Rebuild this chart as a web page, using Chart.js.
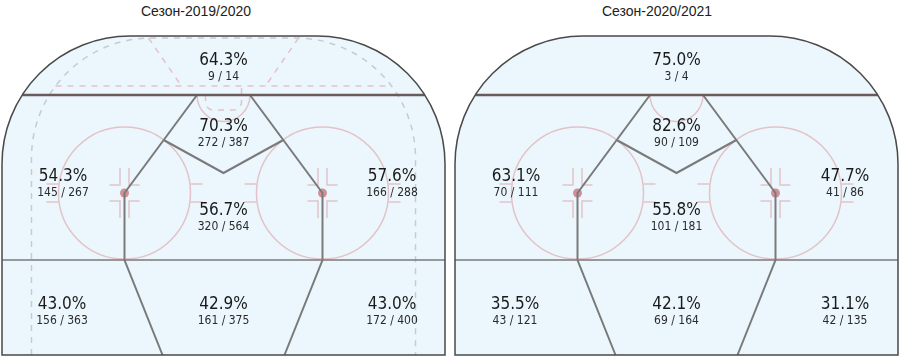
<html><head><meta charset="utf-8">
<script src="https://cdn.jsdelivr.net/npm/chart.js@4.4.0/dist/chart.umd.min.js"></script>
<style>
body{margin:0;background:#fff;overflow:hidden;width:900px;height:357px;position:relative}
canvas{position:absolute;top:0}
.ttl{position:absolute;top:0;width:200px;margin-left:-100px;text-align:center;font:14px "Liberation Sans",Arial,sans-serif;line-height:22px;color:#222}
</style>
</head>
<body>
<div class="ttl" id="t0" style="left:196px"></div>
<div class="ttl" id="t1" style="left:657px"></div>
<canvas id="c0" width="450" height="357" style="left:0"></canvas>
<canvas id="c1" width="447" height="357" style="left:453px"></canvas>
<script>
// data
var seasons = ['Сезон-2019/2020', 'Сезон-2020/2021'];
var zones = ['За воротами', 'Слот', 'Левый круг', 'Правый круг', 'Центр', 'Левый низ', 'Центр низ', 'Правый низ'];
var made2019 = [9, 272, 145, 166, 320, 156, 161, 172];
var att2019 = [14, 387, 267, 288, 564, 363, 375, 400];
var made2020 = [3, 90, 70, 41, 101, 43, 69, 42];
var att2020 = [4, 109, 111, 86, 181, 121, 164, 135];

// rink layout (rink units, x 0..443, y 0..321 from the top boards)
var CX = 221.5;
var zoneX = [CX, CX, 61, 390, CX, 60, CX, 390];
var zoneY = [25, 91, 141, 141, 175, 269, 269, 269];

var rinkPlugin = {
  id: 'rink',
  beforeDatasetsDraw: function(chart, args, opts) {
    var ctx = chart.ctx, sx = chart.scales.x, sy = chart.scales.y;
    var X = function(v){ return sx.getPixelForValue(v); };
    var Y = function(v){ return sy.getPixelForValue(v); };
    var k = X(1) - X(0);
    var W = 443, B = 319, R = 128;
    ctx.save();
    // ice
    ctx.beginPath();
    ctx.moveTo(X(0), Y(B));
    ctx.lineTo(X(0), Y(R));
    ctx.arc(X(R), Y(R), R * k, Math.PI, 1.5 * Math.PI);
    ctx.lineTo(X(W - R), Y(0));
    ctx.arc(X(W - R), Y(R), R * k, 1.5 * Math.PI, 2 * Math.PI);
    ctx.lineTo(X(W), Y(B));
    ctx.closePath();
    ctx.fillStyle = '#ebf7fd';
    ctx.fill();

    var pink = '#e3c3c7';
    ctx.lineWidth = 1.5;
    if (opts.markings) {
      ctx.setLineDash([6, 6]);
      ctx.strokeStyle = '#c6cbcf';
      ctx.beginPath();
      ctx.moveTo(X(CX - 192), Y(B));
      ctx.lineTo(X(CX - 192), Y(122));
      ctx.arc(X(CX - 72), Y(122), 120 * k, Math.PI, 1.5 * Math.PI);
      ctx.lineTo(X(CX + 72), Y(2));
      ctx.arc(X(CX + 72), Y(122), 120 * k, 1.5 * Math.PI, 2 * Math.PI);
      ctx.lineTo(X(CX + 192), Y(B));
      ctx.stroke();

      ctx.strokeStyle = pink;
      ctx.beginPath();
      ctx.moveTo(X(CX - 75), Y(2)); ctx.lineTo(X(CX - 42), Y(50));
      ctx.moveTo(X(CX + 75), Y(2)); ctx.lineTo(X(CX + 42), Y(50));
      ctx.moveTo(X(CX - 168), Y(50)); ctx.lineTo(X(CX + 168), Y(50));
      ctx.stroke();
      ctx.beginPath();
      ctx.moveTo(X(CX - 18), Y(59));
      ctx.lineTo(X(CX - 18), Y(66));
      ctx.arcTo(X(CX - 18), Y(74), X(CX - 10), Y(74), 8 * k);
      ctx.lineTo(X(CX + 10), Y(74));
      ctx.arcTo(X(CX + 18), Y(74), X(CX + 18), Y(66), 8 * k);
      ctx.lineTo(X(CX + 18), Y(50));
      ctx.stroke();
      ctx.setLineDash([]);
    }

    // crease
    ctx.strokeStyle = pink;
    ctx.beginPath();
    ctx.arc(X(CX), Y(59), 26.5 * k, 0, Math.PI);
    ctx.stroke();

    // faceoff circles
    [CX - 99, CX + 99].forEach(function(fx) {
      var fy = 157;
      ctx.strokeStyle = pink;
      ctx.lineWidth = 1.5;
      ctx.beginPath();
      ctx.arc(X(fx), Y(fy), 66 * k, 0, 2 * Math.PI);
      ctx.stroke();
      ctx.beginPath();
      [-1, 1].forEach(function(s) {
        [-1, 1].forEach(function(t) {
          ctx.moveTo(X(fx + s * 66), Y(fy + t * 9)); ctx.lineTo(X(fx + s * 78), Y(fy + t * 9));
          ctx.moveTo(X(fx + s * 4.5), Y(fy + t * 25)); ctx.lineTo(X(fx + s * 4.5), Y(fy + t * 8));
          ctx.lineTo(X(fx + s * 15), Y(fy + t * 8));
        });
      });
      ctx.stroke();
      ctx.fillStyle = 'rgba(200,110,115,0.75)';
      ctx.beginPath();
      ctx.arc(X(fx), Y(fy), 4.5 * k, 0, 2 * Math.PI);
      ctx.fill();
    });

    // zone lines
    ctx.strokeStyle = '#7a7a7a';
    ctx.lineWidth = 1.5;
    ctx.beginPath();
    ctx.moveTo(X(0), Y(224)); ctx.lineTo(X(W), Y(224));
    ctx.stroke();
    ctx.lineWidth = 2;
    ctx.beginPath();
    ctx.moveTo(X(CX - 26.5), Y(59)); ctx.lineTo(X(CX - 99), Y(157)); ctx.lineTo(X(CX - 99), Y(224)); ctx.lineTo(X(CX - 61), Y(B));
    ctx.moveTo(X(CX + 26.5), Y(59)); ctx.lineTo(X(CX + 99), Y(157)); ctx.lineTo(X(CX + 99), Y(224)); ctx.lineTo(X(CX + 61), Y(B));
    ctx.moveTo(X(CX - 59.8), Y(104)); ctx.lineTo(X(CX), Y(137)); ctx.lineTo(X(CX + 59.8), Y(104));
    ctx.stroke();

    // goal line
    var gx = R - Math.sqrt(R * R - (R - 59) * (R - 59));
    ctx.strokeStyle = '#6b5a5a';
    ctx.lineWidth = 2.5;
    ctx.beginPath();
    ctx.moveTo(X(gx), Y(59)); ctx.lineTo(X(W - gx), Y(59));
    ctx.stroke();

    // boards
    ctx.strokeStyle = '#4a4a4a';
    ctx.lineWidth = 1.5;
    ctx.beginPath();
    ctx.moveTo(X(0), Y(B));
    ctx.lineTo(X(0), Y(R));
    ctx.arc(X(R), Y(R), R * k, Math.PI, 1.5 * Math.PI);
    ctx.lineTo(X(W - R), Y(0));
    ctx.arc(X(W - R), Y(R), R * k, 1.5 * Math.PI, 2 * Math.PI);
    ctx.lineTo(X(W), Y(B));
    ctx.closePath();
    ctx.stroke();
    ctx.restore();
  }
};

var labelPlugin = {
  id: 'zoneLabels',
  afterDatasetsDraw: function(chart) {
    var ctx = chart.ctx;
    var ds = chart.data.datasets[0];
    var meta = chart.getDatasetMeta(0);
    ctx.save();
    ctx.textAlign = 'center';
    ctx.textBaseline = 'middle';
    meta.data.forEach(function(pt, i) {
      var m = ds.made[i], a = ds.att[i];
      ctx.fillStyle = '#1a1a1a';
      ctx.font = '17px "Liberation Sans Narrow", "DejaVu Sans Condensed", sans-serif';
      ctx.fillText((m / a * 100).toFixed(1) + '%', pt.x, pt.y);
      ctx.fillStyle = '#2a2a2a';
      ctx.font = '12px "Liberation Sans Narrow", "DejaVu Sans Condensed", sans-serif';
      ctx.fillText(m + ' / ' + a, pt.x, pt.y + 16);
    });
    ctx.restore();
  }
};

function makeChart(id, title, made, att, markings, padRight) {
  document.getElementById('t' + id.slice(1)).textContent = title;
  return new Chart(document.getElementById(id), {
    type: 'scatter',
    data: {
      labels: zones,
      datasets: [{
        label: title,
        data: zoneX.map(function(x, i) { return { x: x, y: zoneY[i] }; }),
        made: made,
        att: att,
        pointRadius: 0,
        pointHoverRadius: 0
      }]
    },
    options: {
      responsive: false,
      animation: false,
      events: [],
      layout: { padding: { left: 2, right: padRight, top: 36, bottom: 0 } },
      scales: {
        x: { type: 'linear', min: 0, max: 443, display: false },
        y: { type: 'linear', min: 0, max: 321, reverse: true, display: false }
      },
      plugins: {
        legend: { display: false },
        tooltip: { enabled: false },
        title: { display: false },
        rink: { markings: markings }
      }
    },
    plugins: [rinkPlugin, labelPlugin]
  });
}

makeChart('c0', seasons[0], made2019, att2019, true, 5);
makeChart('c1', seasons[1], made2020, att2020, false, 2);
</script>
</body></html>
